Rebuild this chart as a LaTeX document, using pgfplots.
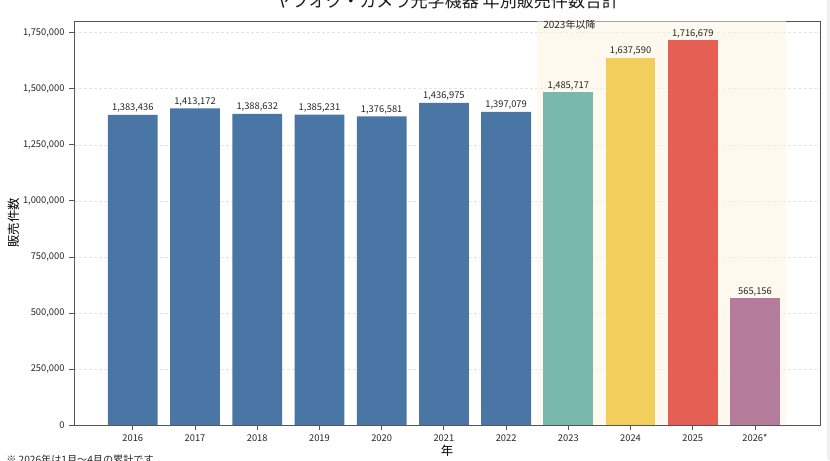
\documentclass[border=0pt]{standalone}
\usepackage{pgfplots}
\pgfplotsset{compat=1.18}
\usepackage{fontspec}
\setmainfont{Noto Sans CJK JP}
\definecolor{cblue}{HTML}{4A76A6}
\definecolor{cteal}{HTML}{79B8AC}
\definecolor{cyellow}{HTML}{F2CE5C}
\definecolor{cred}{HTML}{E65F55}
\definecolor{cpurple}{HTML}{B47B9A}
\definecolor{cspan}{HTML}{FDF4E0}
\definecolor{cframe}{HTML}{555555}
\begin{document}
\begin{tikzpicture}
\fill[white] (0,0) rectangle (622.5pt,345pt);
\fill[gray!12] (620pt,0) rectangle (622.5pt,345pt);
\begin{axis}[
  at={(55.5pt,26.25pt)}, anchor=south west,
  scale only axis, width=559.5pt, height=303pt,
  xmin=-0.945, xmax=11.045, ymin=0, ymax=1802513,
  scaled y ticks=false,
  xtick={0,1,2,3,4,5,6,7,8,9,10},
  xticklabels={2016,2017,2018,2019,2020,2021,2022,2023,2024,2025,2026*},
  ytick={0,250000,500000,750000,1000000,1250000,1500000,1750000},
  yticklabels={0,{250,000},{500,000},{750,000},{1,000,000},{1,250,000},{1,500,000},{1,750,000}},
  /pgf/number format/assume math mode=true,
  xtick pos=bottom, ytick pos=left, tick align=outside,
  major tick length=3.6pt,
  tick style={cframe, line width=0.6pt},
  axis line style={cframe, line width=0.7pt},
  ymajorgrids, grid style={black!11, line width=0.45pt, dash pattern=on 2.2pt off 1.6pt},
  ticklabel style={font=\fontsize{7pt}{8pt}\selectfont, text=black!85},
  xlabel={年}, ylabel={販売件数},
  label style={font=\fontsize{9.3pt}{10pt}\selectfont},
  xlabel style={at={(axis description cs:0.5,-0.0644)}, anchor=center},
  ylabel style={at={(axis description cs:-0.0811,0.5)}, anchor=center},
  ybar, bar width=0.8, bar shift=0pt,
  point meta=explicit symbolic,
  nodes near coords,
  every node near coord/.append style={anchor=base, yshift=3pt, inner sep=0pt, font=\fontsize{7pt}{8pt}\selectfont, text=black!85},
]
\fill[cspan, fill opacity=0.5] (axis cs:6.5,0) rectangle (axis cs:10.5,1802513);
\addplot[fill=cblue, draw=none] table[x=x, y=y, meta=lab] {
x y lab
0 1383436 1,383,436
1 1413172 1,413,172
2 1388632 1,388,632
3 1385231 1,385,231
4 1376581 1,376,581
5 1436975 1,436,975
6 1397079 1,397,079
};
\addplot[fill=cteal, draw=none] table[x=x, y=y, meta=lab] {
x y lab
7 1485717 1,485,717
};
\addplot[fill=cyellow, draw=none] table[x=x, y=y, meta=lab] {
x y lab
8 1637590 1,637,590
};
\addplot[fill=cred, draw=none] table[x=x, y=y, meta=lab] {
x y lab
9 1716679 1,716,679
};
\addplot[fill=cpurple, draw=none] table[x=x, y=y, meta=lab] {
x y lab
10 565156 565,156
};
\node[anchor=base west, inner sep=0pt, font=\fontsize{7.5pt}{8pt}\selectfont, text=black!85] at (axis cs:6.594,1767944) {2023年以降};
\end{axis}
\node[anchor=base, inner sep=0pt, font=\fontsize{12.8pt}{14pt}\selectfont, text=black!90] at (335.25pt,339pt) {ヤフオク・カメラ光学機器 年別販売件数合計};
\node[anchor=base west, inner sep=0pt, font=\fontsize{7.6pt}{8pt}\selectfont, text=black!85] at (4.5pt,-2.55pt) {※ 2026年は1月～4月の累計です};
\pgfresetboundingbox
\path[use as bounding box] (0,0) rectangle (622.5pt,345pt);
\end{tikzpicture}
\end{document}
